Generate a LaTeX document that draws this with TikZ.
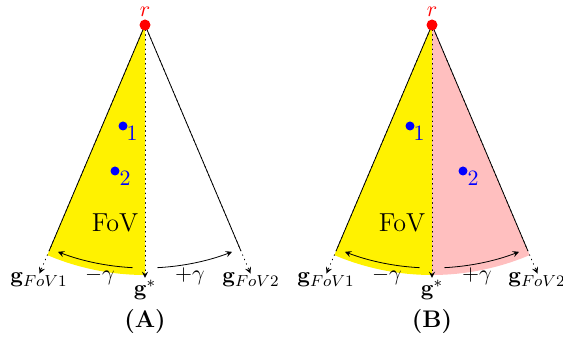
\documentclass[tikz,border=0pt]{standalone}
\usepackage{amsmath}
\usetikzlibrary{calc}
\definecolor{fovyellow}{RGB}{255,242,0}
\definecolor{fovpink}{RGB}{255,191,191}

\begin{document}
\begin{tikzpicture}[x=0.5pt, y=0.5pt, line join=round, line cap=round, >=stealth,
  every node/.style={font=\fontsize{11}{13}\selectfont},
  reddot/.style={circle, fill=red, inner sep=0pt, minimum size=5.5pt},
  bluedot/.style={circle, fill=blue, inner sep=0pt, minimum size=4.5pt},
  guide/.style={dotted, ->},
  fovtext/.style={font=\fontsize{13}{15}\selectfont},
  captext/.style={font=\fontsize{12}{14}\selectfont\bfseries}]
\useasboundingbox (0,0) rectangle (563,340);

% (A)
\coordinate (rA) at (145,315);
\coordinate (gsA) at ($(rA)+(270:253)$);
\coordinate (g1A) at ($(rA)+(247:270)$);
\coordinate (g2A) at ($(rA)+(293:270)$);
\coordinate (e1A) at ($(rA)+(247:245)$);
\coordinate (e2A) at ($(rA)+(293:245)$);
\coordinate (a1A) at ($(rA)+(267:243)$);
\coordinate (a2A) at ($(rA)+(273:243)$);

\fill[fovyellow] (rA) -- ($(rA)+(247:250)$) arc[start angle=247, end angle=270, radius=250] -- cycle;
\draw[guide] (rA) -- (gsA);
\draw[guide] (rA) -- (g1A);
\draw[guide] (rA) -- (g2A);
\draw (rA) -- (e1A);
\draw (rA) -- (e2A);
\draw[->] (a1A) arc[start angle=267, end angle=249, radius=243];
\draw[->] (a2A) arc[start angle=273, end angle=291, radius=243];

\node[reddot] (dotrA) at (rA) {};
\node[red] (labrA) at (145,328) {$r$};
\node[bluedot] (p1A) at (123,214) {};
\node[blue] (n1A) at (132,207) {$1$};
\node[bluedot] (p2A) at (115,169) {};
\node[blue] (n2A) at (125,162) {$2$};
\node[fovtext] (fovA) at (115,117) {FoV};
\node[anchor=base] (lg1A) at (39,57) {$\mathbf{g}_{FoV1}$};
\node[anchor=base] (lg2A) at (251,57) {$\mathbf{g}_{FoV2}$};
\node (lgsA) at (145,50) {$\mathbf{g}^*$};
\node (mgA) at (100,64) {$-\gamma$};
\node (pgA) at (190,64) {$+\gamma$};
\node[captext] (capA) at (145,18) {(A)};

% (B)
\coordinate (rB) at (432,315);
\coordinate (gsB) at ($(rB)+(270:253)$);
\coordinate (g1B) at ($(rB)+(247:270)$);
\coordinate (g2B) at ($(rB)+(293:270)$);
\coordinate (e1B) at ($(rB)+(247:245)$);
\coordinate (e2B) at ($(rB)+(293:245)$);
\coordinate (a1B) at ($(rB)+(267:243)$);
\coordinate (a2B) at ($(rB)+(273:243)$);

\fill[fovyellow] (rB) -- ($(rB)+(247:250)$) arc[start angle=247, end angle=270, radius=250] -- cycle;
\fill[fovpink] (rB) -- ($(rB)+(270:250)$) arc[start angle=270, end angle=293, radius=250] -- cycle;
\draw[guide] (rB) -- (gsB);
\draw[guide] (rB) -- (g1B);
\draw[guide] (rB) -- (g2B);
\draw (rB) -- (e1B);
\draw (rB) -- (e2B);
\draw[->] (a1B) arc[start angle=267, end angle=249, radius=243];
\draw[->] (a2B) arc[start angle=273, end angle=291, radius=243];

\node[reddot] (dotrB) at (rB) {};
\node[red] (labrB) at (432,328) {$r$};
\node[bluedot] (p1B) at (410,214) {};
\node[blue] (n1B) at (419,207) {$1$};
\node[bluedot] (p2B) at (463,169) {};
\node[blue] (n2B) at (473,162) {$2$};
\node[fovtext] (fovB) at (402,117) {FoV};
\node[anchor=base] (lg1B) at (326,57) {$\mathbf{g}_{FoV1}$};
\node[anchor=base] (lg2B) at (537,57) {$\mathbf{g}_{FoV2}$};
\node (lgsB) at (432,50) {$\mathbf{g}^*$};
\node (mgB) at (387,64) {$-\gamma$};
\node (pgB) at (477,64) {$+\gamma$};
\node[captext] (capB) at (432,18) {(B)};
\end{tikzpicture}
\end{document}
